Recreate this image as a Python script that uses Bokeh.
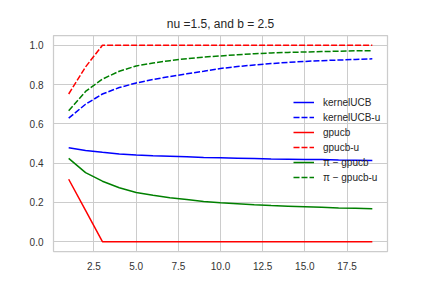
from bokeh.plotting import figure
from bokeh.models import Legend, LegendItem, FixedTicker, Range1d, NumeralTickFormatter
from bokeh.embed import file_html
from bokeh.resources import INLINE

title_text = "nu =1.5, and b = 2.5"
x = list(range(1, 20))
kernelucb = [0.478, 0.464, 0.455, 0.447, 0.442, 0.438, 0.435, 0.432, 0.429, 0.427,
             0.425, 0.423, 0.421, 0.420, 0.419, 0.418, 0.416, 0.415, 0.414]
kernelucb_u = [0.629, 0.700, 0.752, 0.785, 0.808, 0.826, 0.841, 0.855, 0.868, 0.882,
               0.892, 0.900, 0.907, 0.913, 0.918, 0.922, 0.925, 0.928, 0.931]
gpucb = [0.318, 0.159, 0.0, 0.0, 0.0, 0.0, 0.0, 0.0, 0.0, 0.0,
         0.0, 0.0, 0.0, 0.0, 0.0, 0.0, 0.0, 0.0, 0.0]
gpucb_u = [0.752, 0.89, 1.0, 1.0, 1.0, 1.0, 1.0, 1.0, 1.0, 1.0,
           1.0, 1.0, 1.0, 1.0, 1.0, 1.0, 1.0, 1.0, 1.0]
pi_gpucb = [0.424, 0.352, 0.308, 0.275, 0.250, 0.236, 0.224, 0.215, 0.205, 0.198,
            0.193, 0.188, 0.184, 0.181, 0.178, 0.175, 0.172, 0.170, 0.168]
pi_gpucb_u = [0.667, 0.765, 0.828, 0.868, 0.895, 0.910, 0.922, 0.932, 0.940, 0.946,
              0.952, 0.957, 0.961, 0.964, 0.966, 0.968, 0.970, 0.972, 0.973]
labels = ["kernelUCB", "kernelUCB-u", "gpucb", "gpucb-u", "\u03c0 \u2212 gpucb", "\u03c0 \u2212 gpucb-u"]
x_ticks = [2.5, 5.0, 7.5, 10.0, 12.5, 15.0, 17.5]
y_ticks = [0.0, 0.2, 0.4, 0.6, 0.8, 1.0]

FONT = "Liberation Sans"
p = figure(width=416, height=272, output_backend="svg", toolbar_location=None,
           x_range=Range1d(0.1, 19.9), y_range=Range1d(-0.05, 1.05),
           min_border_left=53, min_border_right=29, min_border_bottom=20, min_border_top=35)
p.title.text = title_text
p.title.align = "center"
p.title.text_font = FONT
p.title.text_font_size = "12px"
p.title.text_font_style = "normal"
p.title.text_color = "#262626"
p.background_fill_color = "white"
p.border_fill_color = "white"
p.outline_line_color = "#cccccc"
p.outline_line_width = 1.25

for ax in (p.xaxis, p.yaxis):
    ax.axis_line_color = None
    ax.major_tick_line_color = None
    ax.minor_tick_line_color = None
    ax.major_label_text_font = FONT
    ax.major_label_text_font_size = "10px"
    ax.major_label_text_color = "#333333"
    ax.major_label_standoff = 4
p.xaxis.ticker = FixedTicker(ticks=x_ticks)
p.yaxis.ticker = FixedTicker(ticks=y_ticks)
p.xaxis.formatter = NumeralTickFormatter(format="0.0")
p.yaxis.formatter = NumeralTickFormatter(format="0.0")
p.xgrid.ticker = FixedTicker(ticks=x_ticks)
p.ygrid.ticker = FixedTicker(ticks=y_ticks)
p.grid.grid_line_color = "#cccccc"
p.grid.grid_line_width = 1

series = [(kernelucb, "#0000ff", "solid"), (kernelucb_u, "#0000ff", "6 2"),
          (gpucb, "#ff0000", "solid"), (gpucb_u, "#ff0000", "6 2"),
          (pi_gpucb, "#008000", "solid"), (pi_gpucb_u, "#008000", "6 2")]
items = []
for (ys, c, d), lab in zip(series, labels):
    r = p.line(x, ys, line_color=c, line_width=1.5, line_dash=d)
    items.append(LegendItem(label=lab, renderers=[r]))

legend = Legend(items=items, location=(240, 68), background_fill_alpha=0,
                border_line_color=None, label_text_font=FONT, label_text_font_size="10px",
                label_text_color="#262626", glyph_width=21, glyph_height=12, spacing=3,
                label_standoff=9, padding=4, margin=0)
p.add_layout(legend, "center")

open("out.html", "w").write(file_html(p, INLINE))
